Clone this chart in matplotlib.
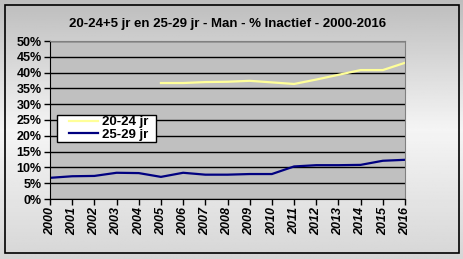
import numpy as np
import matplotlib.pyplot as plt
from matplotlib.ticker import FuncFormatter

plt.rcParams['font.family'] = ['Liberation Sans', 'DejaVu Sans']

# data
years = list(range(2000, 2017))
jr_20_24 = [None] * 5 + [36.7, 36.7, 37.0, 37.1, 37.4, 36.9, 36.4, 37.8, 39.3, 40.8, 40.8, 43.1]
jr_25_29 = [6.7, 7.2, 7.3, 8.3, 8.2, 7.0, 8.3, 7.7, 7.7, 7.9, 7.9, 10.3, 10.7, 10.7, 10.8, 12.1, 12.4]

fig = plt.figure(figsize=(4.64, 2.59), dpi=100)

# background gradient (grey at top/bottom, light in the middle)
bg = fig.add_axes([0, 0, 1, 1], zorder=-10)
yy = np.linspace(0, 1, 200)
shade = np.interp(yy, [0, 0.5, 1], [0.84, 0.96, 0.74])
bg.imshow(np.repeat(shade[:, None], 2, axis=1), cmap='gray', vmin=0, vmax=1,
          aspect='auto', extent=[0, 1, 0, 1], origin='lower')
bg.set_xlim(0, 1)
bg.set_ylim(0, 1)
bg.axis('off')
bg.add_patch(plt.Rectangle((5 / 464, 6 / 259), 454 / 464, 248 / 259, fill=False,
                           edgecolor='black', linewidth=1.2))

ax = fig.add_axes([50 / 464, 60 / 259, 355 / 464, 158 / 259])
ax.set_facecolor('#C0C0C0')

y1 = np.array([np.nan if v is None else v for v in jr_20_24], dtype=float)
ax.plot(years, y1, color='#FFFF99', linewidth=1.6, label='20-24 jr')
ax.plot(years, jr_25_29, color='#000080', linewidth=1.6, label='25-29 jr')

ax.set_xlim(2000, 2016)
ax.set_ylim(0, 50)
ax.set_yticks(range(0, 51, 5))
ax.yaxis.set_major_formatter(FuncFormatter(lambda v, p: f'{int(v)}%'))
ax.set_xticks(years)
ax.set_xticklabels([str(y) for y in years], rotation=90, fontstyle='italic',
                   fontweight='bold', fontsize=9)
for lab in ax.get_yticklabels():
    lab.set_fontweight('bold')
    lab.set_fontsize(9)
ax.grid(axis='y', color='black', linewidth=1)
ax.set_axisbelow(True)
ax.tick_params(axis='both', length=4, width=1, color='black', pad=2)
for s in ['top', 'right']:
    ax.spines[s].set_color('#808080')
for s in ['left', 'bottom']:
    ax.spines[s].set_color('black')

ax.set_title('20-24+5 jr en 25-29 jr - Man - % Inactief - 2000-2016',
             fontsize=9.5, fontweight='bold', pad=10)

# legend box drawn by hand (wider than the legend content)
ax.add_patch(plt.Rectangle((7 / 355, 57 / 158), 99 / 355, 27 / 158, transform=ax.transAxes,
                           facecolor='white', edgecolor='black', linewidth=1, zorder=4,
                           clip_on=False))
leg = ax.legend(loc='center', bbox_to_anchor=(59 / 355, 70.5 / 158), frameon=False,
                borderpad=0, handlelength=2.2, handletextpad=0.3, labelspacing=0.0,
                borderaxespad=0, prop={'weight': 'bold', 'size': 9.5})
leg.set_zorder(5)

fig.savefig('out.png', dpi=100)
